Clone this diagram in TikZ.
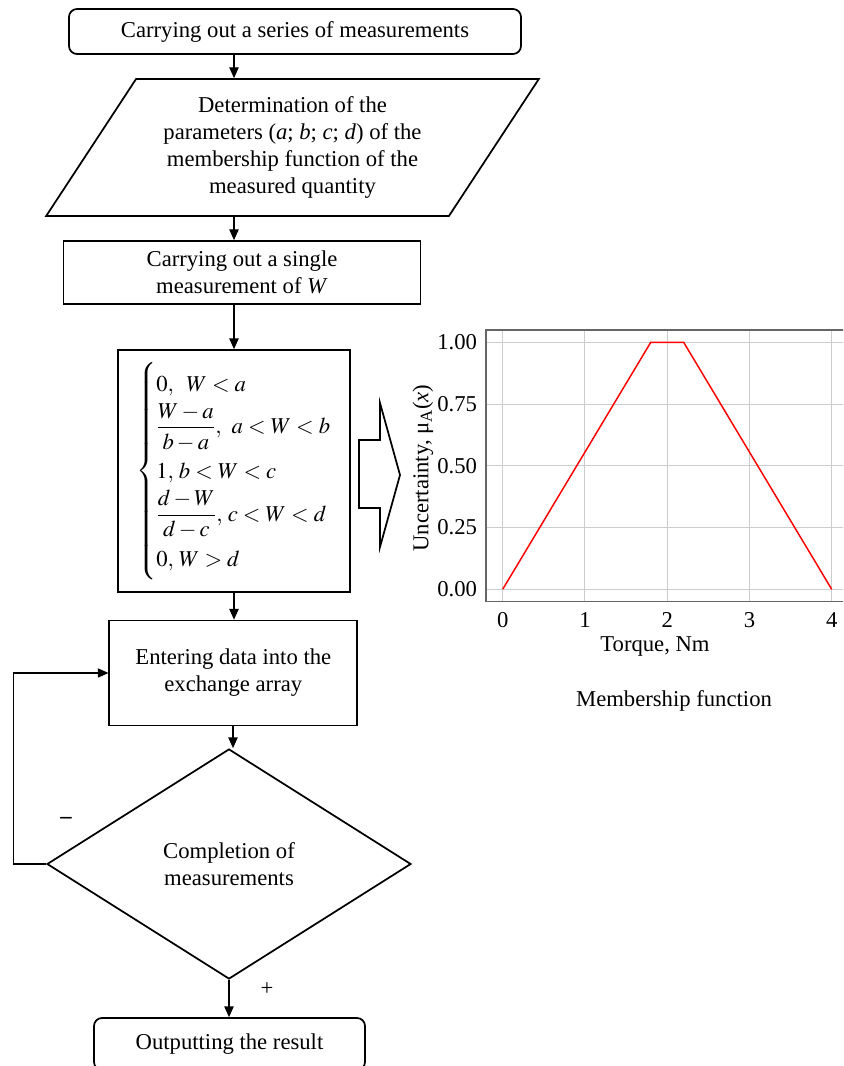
\documentclass[tikz,border=0pt]{standalone}
\usepackage{amsmath}
\usepackage{mathptmx}
\usepackage{fontspec}
\setmainfont{Liberation Serif}
\usetikzlibrary{
	arrows.meta,
	shapes.geometric
}
\newcommand{\figfont}{\fontsize{17pt}{20.3pt}\selectfont}

\begin{document}
\begin{tikzpicture}[x=0.75pt,y=-0.75pt,font=\figfont,
		block/.style={draw,line width=1.3pt,rectangle,align=center,inner sep=0pt},
		term/.style={block,rounded corners=6pt},
		arr/.style={-{Triangle[length=8pt,width=7pt]},line width=0.8pt},
		gridline/.style={line width=0.7pt,black!20},
		plotframe/.style={line width=0.9pt,black!60}]
		
		\clip (0,0) rectangle (843,1066);
		
		%---------------- Flowchart ----------------%
		
		\node[term,minimum width=339pt,minimum height=33.75pt] (start) at (295,31.5)
		{Carrying out a series of measurements};
		
		\node[block,trapezium,trapezium left angle=54,trapezium right angle=126,
		trapezium stretches=true,minimum width=371.25pt,minimum height=102.75pt] (param) at (292.5,147.5)
		{Determination of the\\ parameters (\textit{a}; \textit{b}; \textit{c}; \textit{d}) of the\\ membership function of the\\ measured quantity};
		
		\node[block,minimum width=267.75pt,minimum height=47.25pt] (single) at (242,272.5)
		{Carrying out a single\\ measurement of \textit{W}};
		
		\node[block,minimum width=174pt,minimum height=181.5pt] (formula) at (234,471)
		{$\renewcommand{\arraystretch}{1.45}\left\{\begin{array}{@{}l@{}}
				0,\;\; W<a\\
				\dfrac{W-a}{b-a},\;\, a<W<b\\
				1,\, b<W<c\\
				\dfrac{d-W}{d-c},\, c<W<d\\
				0,\, W>d
			\end{array}\right.$};
		
		\node[block,minimum width=186pt,minimum height=78.75pt] (enter) at (233.3,673)
		{Entering data into the\\ exchange array};
		
		\node[block,diamond,minimum width=273pt,minimum height=172.5pt] (check) at (229,864)
		{Completion of\\ measurements};
		
		\node[term,minimum width=203.25pt,minimum height=39pt] (result) at (229.5,1044)
		{Outputting the result};
		
		\coordinate (ax1) at (234,0);
		\coordinate (ax2) at (233,0);
		\coordinate (ax3) at (229,0);
		
		\draw[arr] (start.south -| ax1)--(param.north -| ax1);
		\draw[arr] (param.south -| ax1)--(single.north -| ax1);
		\draw[arr] (single.south -| ax1)--(formula.north -| ax1);
		\draw[arr] (formula.south -| ax1)--(enter.north -| ax1);
		\draw[arr] (enter.south -| ax2)--(check.north -| ax2);
		\draw[arr] (check.south)--(result.north -| ax3);
		\draw[arr] (check.west)--++(-33,0) |- (enter.west);
		
		\node (minus) at (66,820) {\textbf{--}};
		\node (plus) at (267,989) {+};
		
		% block arrow to the plot
		\draw[line width=1.3pt] (359,440)--(380,440)--(380,403)--(400,475)
		--(380,547)--(380,508)--(359,508)--cycle;
		
		%---------------- Membership function ----------------%
		
		\begin{scope}[shift={(502.7,589.3)},x=61.69pt,y=185.25pt]
			\foreach \i in {0,...,4}
			\draw[gridline] (\i,-0.05)--(\i,1.05);
			\foreach \v in {0,0.25,0.5,0.75,1}
			\draw[gridline] (-0.203,\v)--(4.3,\v);
			\draw[plotframe] (4.3,1.05)--(-0.203,1.05)--(-0.203,-0.05)--(4.3,-0.05);
			
			\draw[red,line width=1.1pt] (0,0)--(1.8,1)--(2.2,1)--(4,0);
			
			\foreach \i in {0,...,4}
			\node (xt\i) at (\i,-0.125) {\i};
			\foreach \v/\t in {0/0.00,0.25/0.25,0.5/0.50,0.75/0.75,1/1.00}
			\node[anchor=east,inner sep=0pt] (yt\t) at (-0.309,\v) {\t};
		\end{scope}
		
		\node (xlabel) at (655,646) {Torque, Nm};
		\node[rotate=90] (ylabel) at (423,468) {Uncertainty, μ\textsubscript{A}(\textit{x})};
		
		\node (caption) at (674,701) {Membership function};
		
	\end{tikzpicture}
\end{document}
